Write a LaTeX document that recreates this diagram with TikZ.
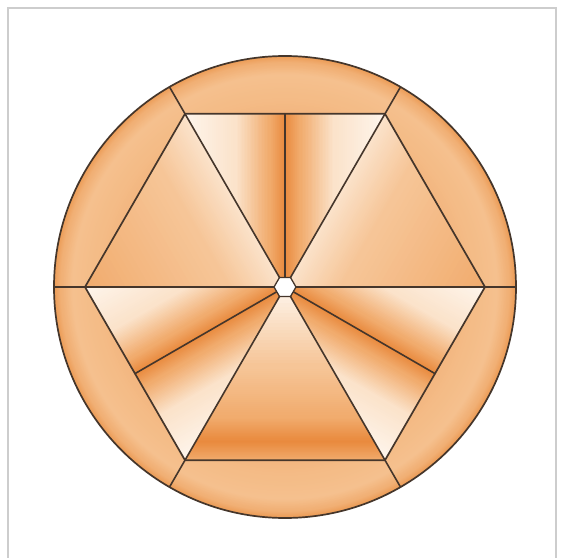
\documentclass[tikz,border=0pt]{standalone}
\usetikzlibrary{calc}
\definecolor{lnc}{HTML}{45362B}
\definecolor{framec}{HTML}{CDCDCD}
% ring colours
\definecolor{ra}{HTML}{EC9C56}
\definecolor{rb}{HTML}{F1B075}
\definecolor{rc}{HTML}{F5C08E}
\definecolor{rd}{HTML}{F4BC87}
\definecolor{re}{HTML}{F2B37C}
% fan colours
\definecolor{wl}{HTML}{FEF5EC}
\definecolor{lt}{HTML}{FBE3CB}
\definecolor{md}{HTML}{F6C597}
\definecolor{mo}{HTML}{F1AC6E}
\definecolor{dk}{HTML}{E98A3E}
\newcommand\myband[6]{% origin, angle, d0, d1, colour at d0, colour at d1
  \begin{scope}[shift={#1},rotate=#2]
    \foreach \i in {0,...,23}{%
      \pgfmathtruncatemacro\p{round(100*\i/23)}%
      \fill[#6!\p!#5] ({#3+(#4-#3)*\i/24-0.4},-420) rectangle ({#3+(#4-#3)*(\i+1)/24+0.4},420);
    }
  \end{scope}}
\newcommand\myring[4]{% r0, r1, colour at r0, colour at r1
  \foreach \i in {0,...,15}{%
    \pgfmathtruncatemacro\p{round(100*\i/15)}%
    \fill[#3!\p!#4] (0,0) circle ({#2-(#2-#1)*\i/16});
  }}
\tikzset{
  outline/.style={draw=lnc, line width=1.7pt, line join=round},
  thin/.style={draw=lnc, line width=1.6pt, line cap=round},
}
\begin{document}
\begin{tikzpicture}[x=1pt,y=1pt]
\useasboundingbox (-285,-270) rectangle (277,287);
\fill[white] (-285,-270) rectangle (277,287);
\draw[framec, line width=2pt] (-276.5,-272) -- (-276.5,278.5) -- (270.5,278.5) -- (270.5,-272);

\coordinate (C) at (0,0);
\foreach \k in {0,...,5}{
  \coordinate (V\k) at ({60*\k}:200);
  \coordinate (O\k) at ({60*\k}:231);
  \coordinate (S\k) at ({60*\k}:11);
}
\coordinate (M1) at (0,173.2);
\coordinate (M4) at (-150,-86.6);
\coordinate (M5) at (150,-86.6);

% outer ring
\begin{scope}
  \clip (C) circle (231);
  \myring{224}{231}{rb}{ra}
  \myring{212}{224}{rc}{rb}
  \myring{190}{212}{rd}{rc}
  \myring{165}{190}{re}{rd}
\end{scope}

% top-left triangle
\begin{scope}
  \clip (V3) -- (V2) -- (C) -- cycle;
  \myband{(C)}{210}{0}{50}{lt}{md}
  \myband{(C)}{210}{50}{175}{md}{mo}
\end{scope}
% top-right triangle
\begin{scope}
  \clip (V0) -- (V1) -- (C) -- cycle;
  \myband{(C)}{-30}{0}{50}{lt}{md}
  \myband{(C)}{-30}{50}{175}{md}{mo}
\end{scope}
% top triangle, two halves
\begin{scope}
  \clip (V2) -- (M1) -- (C) -- cycle;
  \myband{(C)}{180}{0}{16}{dk}{mo}
  \myband{(C)}{180}{16}{50}{mo}{lt}
  \myband{(C)}{180}{50}{101}{lt}{wl}
\end{scope}
\begin{scope}
  \clip (V1) -- (M1) -- (C) -- cycle;
  \myband{(C)}{0}{0}{16}{dk}{mo}
  \myband{(C)}{0}{16}{50}{mo}{lt}
  \myband{(C)}{0}{50}{101}{lt}{wl}
\end{scope}
% bottom-left, two parts
\begin{scope}
  \clip (V3) -- (M4) -- (C) -- cycle;
  \myband{(C)}{120}{0}{16}{dk}{mo}
  \myband{(C)}{120}{16}{50}{mo}{lt}
  \myband{(C)}{120}{50}{101}{lt}{wl}
\end{scope}
\begin{scope}
  \clip (V4) -- (M4) -- (C) -- cycle;
  \myband{(C)}{300}{0}{16}{dk}{mo}
  \myband{(C)}{300}{16}{50}{mo}{lt}
  \myband{(C)}{300}{50}{101}{lt}{wl}
\end{scope}
% bottom-right, two parts
\begin{scope}
  \clip (V0) -- (M5) -- (C) -- cycle;
  \myband{(C)}{60}{0}{16}{dk}{mo}
  \myband{(C)}{60}{16}{50}{mo}{lt}
  \myband{(C)}{60}{50}{101}{lt}{wl}
\end{scope}
\begin{scope}
  \clip (V5) -- (M5) -- (C) -- cycle;
  \myband{(C)}{240}{0}{16}{dk}{mo}
  \myband{(C)}{240}{16}{50}{mo}{lt}
  \myband{(C)}{240}{50}{101}{lt}{wl}
\end{scope}
% bottom triangle
\begin{scope}
  \clip (V4) -- (V5) -- (C) -- cycle;
  \myband{(C)}{270}{0}{80}{wl}{md}
  \myband{(C)}{270}{80}{130}{md}{mo}
  \myband{(C)}{270}{130}{155}{mo}{dk}
  \myband{(C)}{270}{155}{175}{dk}{mo}
\end{scope}

% lines
\foreach \k in {0,...,5}{
  \draw[thin] (V\k) -- (O\k);
  \draw[thin] (C) -- (V\k);
}
\draw[thin] (C) -- (M1);
\draw[thin] (C) -- (M4);
\draw[thin] (C) -- (M5);
\draw[outline] (V0) -- (V1) -- (V2) -- (V3) -- (V4) -- (V5) -- cycle;
\draw[outline] (C) circle (231);
\filldraw[fill=white, draw=lnc, line width=1.3pt] (S0) -- (S1) -- (S2) -- (S3) -- (S4) -- (S5) -- cycle;
\end{tikzpicture}
\end{document}
